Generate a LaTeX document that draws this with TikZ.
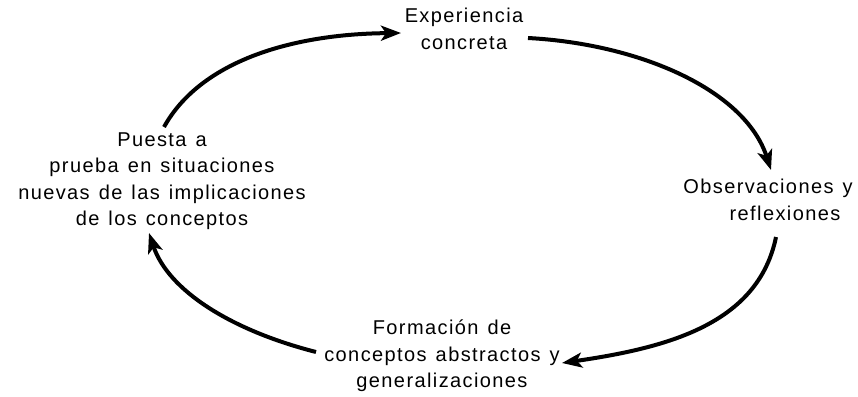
\documentclass[tikz,border=0pt]{standalone}
\usepackage{fontspec}
\setmainfont[LetterSpace=7,WordSpace=1.3]{Liberation Sans}
\usetikzlibrary{arrows.meta}
\begin{document}
\begin{tikzpicture}[x=1pt,y=-1pt,
  lbl/.style={align=center,font=\fontsize{20}{26.5}\selectfont,inner sep=0pt},
  cyc/.style={line width=4pt,-{Stealth[length=20pt,width=15pt,inset=5pt]}}]
\useasboundingbox (0,0) rectangle (858,396);
\node[lbl] (exp) at (464,29) {Experiencia\\concreta};
\node[lbl] (obs) at (768,200) {Observaciones y\\\hspace*{34pt}reflexiones};
\node[lbl] (form) at (442,356) {Formación de\\conceptos abstractos y\\generalizaciones};
\node[lbl] (pue) at (162,181) {Puesta a\\prueba en situaciones\\nuevas de las implicaciones\\de los conceptos};
\coordinate (s1) at (164,127);
\coordinate (t1) at (401,33);
\coordinate (s2) at (528,38);
\coordinate (t2) at (771,170);
\coordinate (s3) at (776,237);
\coordinate (t3) at (562,363);
\coordinate (s4) at (316,352);
\coordinate (t4) at (149,233);
\draw[cyc] (s1) .. controls (200,62) and (290,34) .. (t1);
\draw[cyc] (s2) .. controls (640,44) and (745,90) .. (t2);
\draw[cyc] (s3) .. controls (758,325) and (665,348) .. (t3);
\draw[cyc] (s4) .. controls (230,330) and (168,290) .. (t4);
\end{tikzpicture}
\end{document}
